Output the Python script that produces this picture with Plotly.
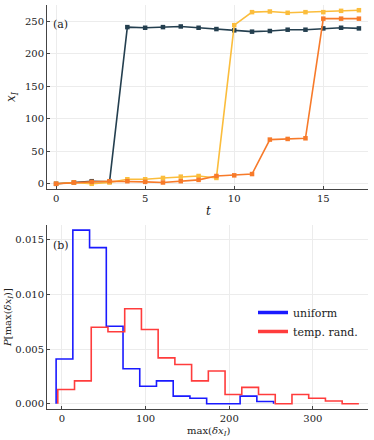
import plotly.graph_objects as go

# panel (a): trajectories x_I(t)
t = list(range(18))
x_dark = [0, 2, 4, 3, 241, 240, 241, 242, 240, 238, 236, 234, 235, 237, 237, 239, 240, 239]
x_yellow = [0, 2, 0, 2, 7, 7, 9, 11, 12, 9, 244, 264, 265, 263, 264, 264, 266, 267]
x_orange = [0, 2, 3, 4, 4, 3, 2, 4, 6, 12, 13, 15, 68, 69, 70, 254, 254, 254]

# panel (b): histograms of max(dx_I)
uniform_edges = [-7, 13, 33, 53, 73, 93, 113, 133, 153, 173, 193, 213, 233, 253]
uniform_vals = [0.0041, 0.0159, 0.0143, 0.0071, 0.0032, 0.0016, 0.0021, 0.0007,
                0.0005, 0.0, 0.0, 0.0007, 0.0002]
temp_edges = [-5, 15, 35, 55, 75, 95, 115, 135, 155, 175, 195, 215, 235, 255,
              275, 295, 315, 335, 355]
temp_vals = [0.0013, 0.0021, 0.0070, 0.0066, 0.0087, 0.0068, 0.0042, 0.0036,
             0.0021, 0.0030, 0.00085, 0.0015, 0.00085, 0.0, 0.00085, 0.0005,
             0.00025, 0.0]

FONT = "DejaVu Serif"
W, H = 374, 440


def step_xy(edges, vals):
    return [edges[0]] + edges, [0] + vals + [0]


fig = go.Figure()

for ys, color in [(x_dark, "#243f4f"), (x_yellow, "#fbbd3c"), (x_orange, "#f77a2a")]:
    fig.add_trace(
        go.Scatter(
            x=t, y=ys, mode="lines+markers", showlegend=False,
            line={"color": color, "width": 1.6},
            marker={"symbol": "square", "size": 4.5, "color": color},
            xaxis="x", yaxis="y",
        )
    )

for edges, vals, color in [(uniform_edges, uniform_vals, "#1a1aff"),
                           (temp_edges, temp_vals, "#ff3c3c")]:
    sx, sy = step_xy(edges, vals)
    fig.add_trace(
        go.Scatter(
            x=sx, y=sy, mode="lines", line_shape="hv", showlegend=False,
            line={"color": color, "width": 1.6},
            xaxis="x2", yaxis="y2",
        )
    )

for name, color in [("uniform", "#1a1aff"), ("temp. rand.", "#ff3c3c")]:
    fig.add_trace(
        go.Scatter(
            x=[None], y=[None], mode="lines", name=name,
            line={"color": color, "width": 3.5},
            xaxis="x2", yaxis="y2",
        )
    )

axis_common = dict(
    showgrid=True, gridcolor="#ececec", gridwidth=1,
    showline=True, linecolor="#444444", linewidth=1,
    ticks="inside", ticklen=3, tickcolor="#444444",
    zeroline=False, mirror=False,
    tickfont={"family": FONT, "size": 10, "color": "#222222"},
)

fig.update_layout(
    width=W, height=H,
    margin={"l": 0, "r": 0, "t": 0, "b": 0},
    paper_bgcolor="white", plot_bgcolor="white",
    font={"family": FONT, "color": "#222222"},
    xaxis=dict(
        axis_common, domain=[47 / W, 368 / W], range=[-0.51, 17.51],
        tickvals=[0, 5, 10, 15], anchor="y",
    ),
    yaxis=dict(
        axis_common, domain=[(H - 189) / H, (H - 5) / H], range=[-8.0, 275.0],
        tickvals=[0, 50, 100, 150, 200, 250], anchor="x",
    ),
    xaxis2=dict(
        axis_common, domain=[47 / W, 368 / W], range=[-17.9, 365.9],
        tickvals=[0, 100, 200, 300], anchor="y2",
    ),
    yaxis2=dict(
        axis_common, domain=[(H - 409) / H, (H - 225) / H], range=[-0.00048, 0.01637],
        tickvals=[0, 0.005, 0.010, 0.015], ticktext=["0.000", "0.005", "0.010", "0.015"],
        anchor="x2",
    ),
    legend={
        "x": 253 / W, "y": (H - 298) / H, "xanchor": "left", "yanchor": "top",
        "bgcolor": "rgba(0,0,0,0)", "font": {"family": FONT, "size": 11},
        "itemwidth": 30, "tracegroupgap": 0,
    },
)

labels = [
    ("(a)", 51, 25, 0, "left", 11),
    ("(b)", 51, 245, 0, "left", 11),
    ("<i>t</i>", 208, 211, 0, "center", 12),
    ("<i>x<sub>I</sub></i>", 12, 97, -90, "center", 12),
    ("max(<i>δx<sub>I</sub></i>)", 208, 431, 0, "center", 10),
    ("<i>P</i>[max(<i>δx<sub>I</sub></i>)]", 8, 318, -90, "center", 10),
]
for text, px_, py_, angle, xanchor, size in labels:
    fig.add_annotation(
        text=text, x=px_ / W, y=(H - py_) / H, xref="paper", yref="paper",
        xanchor=xanchor, yanchor="middle", showarrow=False, textangle=angle,
        font={"family": FONT, "size": size, "color": "#222222"},
    )

fig.write_html(
    "out.html",
    config={"displayModeBar": False},
    post_script="document.body.style.margin='0';",
)
